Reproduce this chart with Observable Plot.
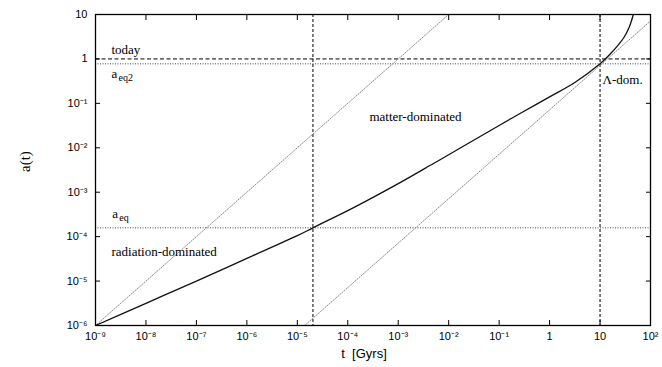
<!DOCTYPE html>
<html><head><meta charset="utf-8">
<script src="https://cdn.jsdelivr.net/npm/d3@7"></script>
<script src="https://cdn.jsdelivr.net/npm/@observablehq/plot@0.6"></script>
<style>body{margin:0;background:#fff}</style>
</head><body><div id="chart"></div>
<script>
// solid curve a(t)
const curveT = [1e-9, 1e-8, 1e-7, 1e-6, 1e-5, 2.04e-5, 1e-4, 2.45e-4, 1e-3, 5e-3, 1e-2, 1e-1, 0.265, 1, 3.16, 10, 16.2, 22.4, 29.5, 38, 45.7];
const curveA = [1e-6, 3.16e-6, 1e-5, 3.24e-5, 1.05e-4, 1.58e-4, 3.85e-4, 6.55e-4, 1.56e-3, 4.43e-3, 6.95e-3, 3.18e-2, 6.0e-2, 0.14, 0.295, 0.776, 1.32, 2.0, 3.0, 5.25, 10];
// dotted guide lines
const guide1T = [1e-9, 1e-2];
const guide1A = [1e-6, 10];
const guide2T = [1.4e-5, 100];
const guide2A = [1e-6, 7.14];
// reference levels
const aToday = [1];
const aEqLevels = [0.776, 1.58e-4];
const tMarks = [2.04e-5, 10];
// ticks
const xTicks = [1e-9, 1e-8, 1e-7, 1e-6, 1e-5, 1e-4, 1e-3, 1e-2, 1e-1, 1, 10, 100];
const xTickLabels = ["10⁻⁹", "10⁻⁸", "10⁻⁷", "10⁻⁶", "10⁻⁵", "10⁻⁴", "10⁻³", "10⁻²", "10⁻¹", "1", "10", "10²"];
const yTicks = [1e-6, 1e-5, 1e-4, 1e-3, 1e-2, 1e-1, 1, 10];
const yTickLabels = ["10⁻⁶", "10⁻⁵", "10⁻⁴", "10⁻³", "10⁻²", "10⁻¹", "1", "10"];

const curve = curveT.map((t, i) => ({t, a: curveA[i]}));
const g1 = guide1T.map((t, i) => ({t, a: guide1A[i]}));
const g2 = guide2T.map((t, i) => ({t, a: guide2A[i]}));

const serif = "'Liberation Serif', 'Times New Roman', serif";
const sans = "'Liberation Sans', Arial, sans-serif";

const labels = [
  {t: 2.07e-9, a: 1.63, s: "today"},
  {t: 2.07e-9, a: 4.63e-5, s: "radiation-dominated"},
  {t: 11.2, a: 0.344, s: "Λ-dom."}
];
const subLabels = [
  {t: 2.07e-9, a: 0.47, s: "a", sub: "eq2"},
  {t: 2.15e-9, a: 3.32e-4, s: "a", sub: "eq"}
];

const plot = Plot.plot({
  width: 662, height: 367,
  marginLeft: 95, marginRight: 12, marginTop: 14, marginBottom: 42,
  x: {type: "log", domain: [1e-9, 1e2]},
  y: {type: "log", domain: [1e-6, 10]},
  style: {fontFamily: sans, fontSize: "11px", color: "#000", background: "#fff"},
  marks: [
    Plot.ruleY(aToday, {stroke: "#000", strokeWidth: 1, strokeDasharray: "4,2.5"}),
    Plot.ruleY(aEqLevels, {stroke: "#333", strokeWidth: 0.9, strokeDasharray: "1,1.5"}),
    Plot.ruleX(tMarks, {stroke: "#000", strokeWidth: 1, strokeDasharray: "3,2"}),
    Plot.line(g1, {x: "t", y: "a", stroke: "#888", strokeWidth: 1, strokeDasharray: "1,1.5", clip: true}),
    Plot.line(g2, {x: "t", y: "a", stroke: "#888", strokeWidth: 1, strokeDasharray: "1,1.5", clip: true}),
    Plot.line(curve, {x: "t", y: "a", stroke: "#111", strokeWidth: 1.3, curve: "catmull-rom", clip: true}),
    Plot.frame({stroke: "#000", strokeWidth: 1.3}),
    Plot.axisX({anchor: "bottom", ticks: xTicks, tickSize: -5, tickPadding: 12, label: null,
      tickFormat: d => xTickLabels[xTicks.indexOf(d)]}),
    Plot.axisX({anchor: "top", ticks: xTicks, tickSize: -5, label: null, tickFormat: () => ""}),
    Plot.axisY({anchor: "left", ticks: yTicks, tickSize: -5, tickPadding: 13, label: null,
      tickFormat: d => yTickLabels[yTicks.indexOf(d)]}),
    Plot.axisY({anchor: "right", ticks: yTicks, tickSize: -5, label: null, tickFormat: () => ""}),
    Plot.text(labels, {x: "t", y: "a", text: "s", textAnchor: "start", fontFamily: serif, fontSize: 13}),
    Plot.text(subLabels, {x: "t", y: "a", text: "s", textAnchor: "start", fontFamily: serif, fontSize: 13}),
    Plot.text(subLabels, {x: "t", y: "a", text: "sub", textAnchor: "start", fontFamily: serif, fontSize: 10, dx: 7, dy: 4}),
    Plot.text(["matter-dominated"], {x: 2.2e-3, y: 0.0506, text: d => d, fontFamily: serif, fontSize: 13}),
    Plot.text(["a(t)"], {frameAnchor: "left", dx: -70, dy: 2, rotate: -90, text: d => d, fontFamily: serif, fontSize: 15}),
    Plot.text(["t  [Gyrs]"], {frameAnchor: "bottom", dx: -9, dy: 32, text: d => d, fontFamily: sans, fontSize: 13})
  ]
});
document.getElementById("chart").appendChild(plot);
</script>
</body></html>
